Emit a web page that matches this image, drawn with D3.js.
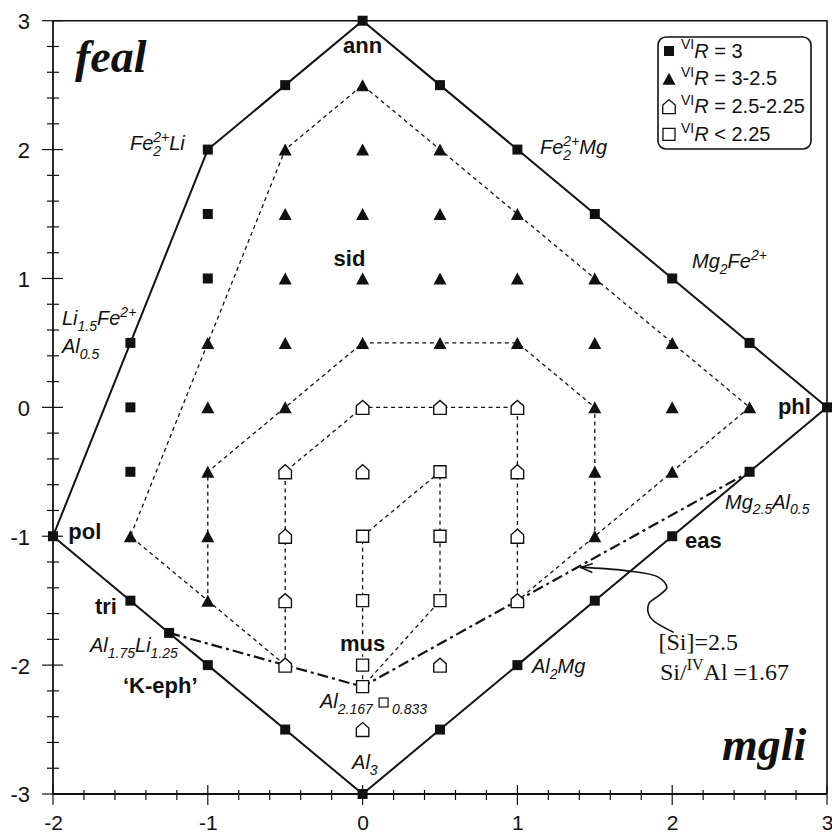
<!DOCTYPE html>
<html><head><meta charset="utf-8">
<script src="https://cdn.jsdelivr.net/npm/d3@7"></script>
<style>body{margin:0;background:#fff}</style>
</head><body>
<svg id="c" width="832" height="835"></svg>
<script>
// ---------- data ----------
const xTicks = [-2, -1, 0, 1, 2, 3];
const yTicks = [-3, -2, -1, 0, 1, 2, 3];

const outerBoundary = [[0,3],[-0.5,2.5],[-1,2],[-1.5,0.5],[-2,-1],[-1.5,-1.5],[-1.25,-1.75],[-1,-2],[-0.5,-2.5],[0,-3],
  [0.5,-2.5],[1,-2],[1.5,-1.5],[2,-1],[2.5,-0.5],[3,0],[2.5,0.5],[2,1],[1.5,1.5],[1,2],[0.5,2.5],[0,3]];

const squaresR3 = [[0,3],[-0.5,2.5],[-1,2],[-1.5,0.5],[-2,-1],[-1.5,-1.5],[-1.25,-1.75],[-1,-2],[-0.5,-2.5],[0,-3],
  [0.5,-2.5],[1,-2],[1.5,-1.5],[2,-1],[2.5,-0.5],[3,0],[2.5,0.5],[2,1],[1.5,1.5],[1,2],[0.5,2.5],
  [-1,1.5],[-1,1],[-1.5,0],[-1.5,-0.5]];

const trianglesR3to25 = [[0,2.5],
  [-0.5,2],[0,2],[0.5,2],
  [-0.5,1.5],[0,1.5],[0.5,1.5],[1,1.5],
  [-0.5,1],[0,1],[0.5,1],[1,1],[1.5,1],
  [-1,0.5],[-0.5,0.5],[0,0.5],[0.5,0.5],[1,0.5],[1.5,0.5],[2,0.5],
  [-1,0],[-0.5,0],[1.5,0],[2,0],[2.5,0],
  [-1,-0.5],[1.5,-0.5],[2,-0.5],
  [-1.5,-1],[-1,-1],[1.5,-1],
  [-1,-1.5]];

const pentagonsR25to225 = [[0,0],[0.5,0],[1,0],[-0.5,-0.5],[0,-0.5],[1,-0.5],[-0.5,-1],[1,-1],
  [-0.5,-1.5],[1,-1.5],[-0.5,-2],[0.5,-2],[0,-2.5]];

const openSquaresRlt225 = [[0.5,-0.5],[0,-1],[0.5,-1],[0,-1.5],[0.5,-1.5],[0,-2],[0,-2.167]];

const dashedChainA = [[-0.5,-2],[-1,-1.5],[-1.5,-1],[-1,0.5],[-0.5,2],[0,2.5],[0.5,2],[1,1.5],[1.5,1],[2,0.5],[2.5,0],[2,-0.5],[1.5,-1],[1,-1.5]];
const dashedChainB = [[-1,-1.5],[-1,-1],[-1,-0.5],[-0.5,0],[0,0.5],[0.5,0.5],[1,0.5],[1.5,0],[1.5,-0.5],[1.5,-1]];
const dashedChainC = [[-0.5,-2],[-0.5,-1.5],[-0.5,-1],[-0.5,-0.5],[0,0],[0.5,0],[1,0],[1,-0.5],[1,-1],[1,-1.5]];
const dashedChainD = [[0,-2.167],[0,-2],[0,-1.5],[0,-1],[0.5,-0.5],[0.5,-1],[0.5,-1.5],[0,-2.167]];

const si25Line = [[-1.25,-1.75],[-0.5,-2],[0,-2.167],[1,-1.5],[2.5,-0.5]];

const arrowCurve = [[2.010,-1.746],[1.859,-1.630],[1.848,-1.526],[1.913,-1.461],[1.966,-1.397],[1.913,-1.319],[1.698,-1.267],[1.408,-1.242]];

const legendLabels = ["= 3", "= 3-2.5", "= 2.5-2.25", "< 2.25"];

// ---------- setup ----------
const svg = d3.select("#c");
const x = d3.scaleLinear().domain([-2, 3]).range([53, 827]);
const y = d3.scaleLinear().domain([-3, 3]).range([794, 20.7]);
const SANS = "'Liberation Sans', Arial, sans-serif";
const SERIF = "'Liberation Serif', 'Times New Roman', serif";

const line = d3.line().x(d => x(d[0])).y(d => y(d[1]));

// frame: top & right
svg.append("path").attr("d", `M${x(-2)},${y(3)}H${x(3)}V${y(-3)}`)
  .attr("fill","none").attr("stroke","#111").attr("stroke-width",1.6);

// axes lines
svg.append("line").attr("x1",x(-2)).attr("x2",x(-2)).attr("y1",y(3)).attr("y2",y(-3)).attr("stroke","#111").attr("stroke-width",1.8);
svg.append("line").attr("x1",x(-2)).attr("x2",x(3)).attr("y1",y(-3)).attr("y2",y(-3)).attr("stroke","#111").attr("stroke-width",1.8);

// ticks (crossing the axis)
const minorX = d3.range(-2, 3.0001, 0.2).map(v => +v.toFixed(2));
const minorY = d3.range(-3, 3.0001, 0.2).map(v => +v.toFixed(2));
const tk = svg.append("g").attr("stroke","#111").attr("stroke-width",1.2);
minorX.forEach(v => {
  const major = Math.abs(v - Math.round(v)) < 1e-6;
  tk.append("line").attr("x1",x(v)).attr("x2",x(v))
    .attr("y1", y(-3) - (major?9:4)).attr("y2", y(-3) + (major?11:6));
});
minorY.forEach(v => {
  const major = Math.abs(v - Math.round(v)) < 1e-6;
  tk.append("line").attr("y1",y(v)).attr("y2",y(v))
    .attr("x1", x(-2) - (major?11:6)).attr("x2", x(-2) + (major?10:6));
});

// tick labels through d3 axes
const fmt = d => (d < 0 ? "-" : "") + Math.abs(d);
const ax = svg.append("g").attr("transform",`translate(0,${y(-3)})`)
  .call(d3.axisBottom(x).tickValues(xTicks).tickSize(0).tickPadding(21).tickFormat(fmt));
const ay = svg.append("g").attr("transform",`translate(${x(-2)},0)`)
  .call(d3.axisLeft(y).tickValues(yTicks).tickSize(0).tickPadding(23).tickFormat(fmt));
[ax, ay].forEach(a => {
  a.select(".domain").remove();
  a.selectAll("text").attr("font-family", SANS).attr("font-size", 22).attr("fill","#111");
});
ax.selectAll("text").attr("font-size", 21).attr("dy", "0.71em");
ay.selectAll("text").attr("dy", "0.36em");

// dashed chains
[dashedChainA, dashedChainB, dashedChainC, dashedChainD].forEach(ch => {
  svg.append("path").attr("d", line(ch)).attr("fill","none").attr("stroke","#111")
    .attr("stroke-width",1.3).attr("stroke-dasharray","4,3.5");
});

// dash-dot Si line
svg.append("path").attr("d", line(si25Line)).attr("fill","none").attr("stroke","#111")
  .attr("stroke-width",2.2).attr("stroke-dasharray","11,4,3,4");

// outer boundary
svg.append("path").attr("d", line(outerBoundary)).attr("fill","none").attr("stroke","#111")
  .attr("stroke-width",2);

// arrow
const defs = svg.append("defs");
defs.append("marker").attr("id","ah").attr("viewBox","0 0 14 12").attr("refX",13).attr("refY",6)
  .attr("markerWidth",14).attr("markerHeight",12).attr("markerUnits","userSpaceOnUse").attr("orient","auto")
  .append("path").attr("d","M1,1.5 L13,6 L1,10.5").attr("fill","none").attr("stroke","#111").attr("stroke-width",1.5);
svg.append("path").attr("d", d3.line().x(d=>x(d[0])).y(d=>y(d[1])).curve(d3.curveCatmullRom.alpha(0.5))(arrowCurve))
  .attr("fill","none").attr("stroke","#111").attr("stroke-width",1.6).attr("marker-end","url(#ah)");

// markers
function sqPath(s){ return `M${-s/2},${-s/2}h${s}v${s}h${-s}Z`; }
function triPath(w,h){ return `M0,${-h/2}L${w/2},${h/2}L${-w/2},${h/2}Z`; }
function pentPath(w,h,roof){ return `M${-w/2},${h/2}L${w/2},${h/2}L${w/2},${-h/2+roof}L0,${-h/2}L${-w/2},${-h/2+roof}Z`; }

const mk = svg.append("g");
mk.selectAll(".sq").data(squaresR3).join("path")
  .attr("transform", d => `translate(${x(d[0])},${y(d[1])})`).attr("d", sqPath(10)).attr("fill","#111");
mk.selectAll(".tr").data(trianglesR3to25).join("path")
  .attr("transform", d => `translate(${x(d[0])},${y(d[1])})`).attr("d", triPath(13,12)).attr("fill","#111");
mk.selectAll(".pe").data(pentagonsR25to225).join("path")
  .attr("transform", d => `translate(${x(d[0])},${y(d[1])})`).attr("d", pentPath(12.5,14,5.5))
  .attr("fill","#fff").attr("stroke","#111").attr("stroke-width",1.4);
mk.selectAll(".os").data(openSquaresRlt225).join("path")
  .attr("transform", d => `translate(${x(d[0])},${y(d[1])})`).attr("d", sqPath(12))
  .attr("fill","#fff").attr("stroke","#111").attr("stroke-width",1.4);

// ---------- labels ----------
function rich(px, py, parts, o) {
  const t = svg.append("text").attr("x", px).attr("y", py)
    .attr("font-family", o.family || SANS).attr("font-size", o.size)
    .attr("font-style", o.style || "normal").attr("font-weight", o.weight || "normal")
    .attr("fill","#111").attr("text-anchor", o.anchor || "start");
  const sub = o.sub || Math.round(o.size*0.7);
  let cur = 0, lastLen = 0;
  parts.forEach(([str, kind]) => {
    let off = 0, sz = null;
    if (kind === "sub") { off = o.size*0.28; sz = sub; }
    else if (kind === "sup" || kind === "supstack") { off = -o.size*0.42; sz = sub; }
    const ts = t.append("tspan").text(str).attr("dy", off - cur);
    if (sz) ts.attr("font-size", sz);
    if (kind === "supstack") ts.attr("dx", -lastLen);
    if (kind === "it") ts.attr("font-style","italic");
    cur = off;
    lastLen = ts.node().getComputedTextLength();
  });
  return t;
}

// big italic corner labels
rich(x(-1.858), y(2.602), [["feal"]], {family: SERIF, size: 46, style:"italic", weight:"bold"});
rich(x(2.322), y(-2.736), [["mgli"]], {family: SERIF, size: 46, style:"italic", weight:"bold"});

// bold end-member labels
const B = {size: 22, weight: "bold"};
rich(x(0), y(2.75), [["ann"]], {...B, anchor:"middle"});
rich(x(-0.085), y(1.093), [["sid"]], {...B, anchor:"middle"});
rich(x(2.683), y(-0.048), [["phl"]], B);
rich(x(-1.901), y(-1.022), [["pol"]], B);
rich(x(-1.729), y(-1.607), [["tri"]], B);
rich(x(-1.548), y(-2.214), [["\u2018K-eph\u2019"]], B);
// mus with white knockout
const mus = rich(x(0), y(-1.894), [["mus"]], {...B, anchor:"middle"});
const mb = mus.node().getBBox();
svg.insert("rect", () => mus.node()).attr("x", mb.x).attr("y", mb.y+5).attr("width", mb.width).attr("height", mb.height-7).attr("fill","#fff");
rich(x(2.083), y(-1.095), [["eas"]], B);

// italic composition labels
const I = {size: 20, style: "italic", sub: 14};
rich(x(-1.503), y(1.997), [["Fe"],["2","sub"],["2+","supstack"],["Li"]], I);
rich(x(-1.942), y(0.639), [["Li"],["1.5","sub"],["Fe"],["2+","sup"]], I);
rich(x(-1.942), y(0.418), [["Al"],["0.5","sub"]], I);
rich(x(1.146), y(1.966), [["Fe"],["2","sub"],["2+","supstack"],["Mg"]], I);
rich(x(2.128), y(1.081), [["Mg"],["2","sub"],["Fe"],["2+","sup"]], I);
rich(x(2.341), y(-0.785), [["Mg"],["2.5","sub"],["Al"],["0.5","sub"]], I);
rich(x(1.094), y(-2.065), [["Al"],["2","sub"],["Mg"]], I);
rich(x(-0.068), y(-2.806), [["Al"],["3","sub"]], I);
rich(x(-1.761), y(-1.898), [["Al"],["1.75","sub"],["Li"],["1.25","sub"]], I);
const alv = rich(x(-0.275), y(-2.333), [["Al"],["2.167","sub"]], I);
const ab = alv.node().getBBox();
svg.append("rect").attr("x", ab.x + ab.width + 5).attr("y", y(-2.333) - 10).attr("width", 9).attr("height", 9)
  .attr("fill","#fff").attr("stroke","#111").attr("stroke-width",1.2);
rich(ab.x + ab.width + 18, y(-2.333) + 5.5, [["0.833"]], {size: 14, style:"italic"});

// Si annotation (serif)
rich(x(1.911), y(-1.883), [["[Si]=2.5"]], {family: SERIF, size: 24});
rich(x(1.921), y(-2.116), [["Si/"],["IV","sup"],["Al =1.67"]], {family: SERIF, size: 24, sub: 16});

// ---------- legend ----------
const lg = svg.append("g");
lg.append("rect").attr("x", 658).attr("y", 37).attr("width", 153).attr("height", 112).attr("rx", 8)
  .attr("fill","#fff").attr("stroke","#111").attr("stroke-width",1.6);
const legendShapes = [
  g => g.append("path").attr("d", sqPath(10)).attr("fill","#111"),
  g => g.append("path").attr("d", triPath(13,12)).attr("fill","#111"),
  g => g.append("path").attr("d", pentPath(12.5,14,5.5)).attr("fill","#fff").attr("stroke","#111").attr("stroke-width",1.3),
  g => g.append("path").attr("d", sqPath(12)).attr("fill","#fff").attr("stroke","#111").attr("stroke-width",1.3)
];
legendLabels.forEach((lab, i) => {
  const base = 57.5 + i * 27.8;
  const g = lg.append("g").attr("transform", `translate(669,${base - 6.5})`);
  legendShapes[i](g);
  rich(681, base, [["VI","sup"],["R","it"],[" " + lab]], {size: 20, sub: 14});
});
</script>
</body></html>
